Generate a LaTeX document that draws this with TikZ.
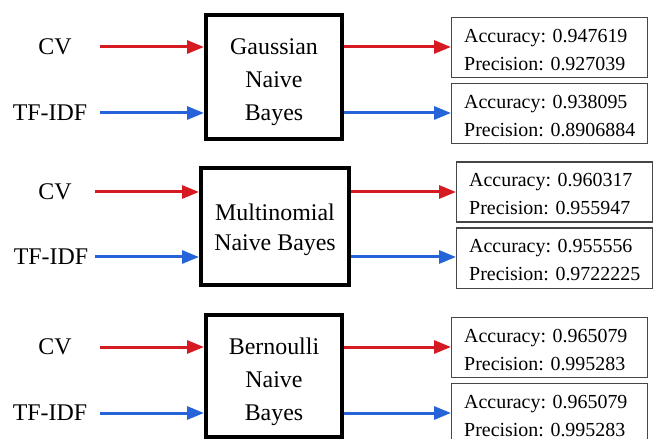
\documentclass[tikz,border=0pt]{standalone}
\usepackage{fontspec}
\setmainfont{Liberation Serif}
\usetikzlibrary{arrows.meta,calc}
\definecolor{arrred}{RGB}{214,26,34}
\definecolor{arrblue}{RGB}{36,100,216}
\definecolor{boxgray}{RGB}{70,70,70}
\begin{document}
\begin{tikzpicture}[x=1bp,y=-1bp,
  lab/.style={font=\fontsize{24}{28}\selectfont, inner sep=0pt},
  model/.style={draw=black, line width=4bp, inner sep=0pt},
  modeltext/.style={align=center, inner sep=0pt, font=\fontsize{24}{33}\selectfont},
  result/.style={draw=boxgray, line width=1.3bp, anchor=north west,
    inner sep=0pt, minimum height=60bp},
  resulttext/.style={align=left, anchor=west, inner sep=0pt,
    font=\fontsize{20}{28}\selectfont},
  redarr/.style={draw=arrred, line width=3bp, -{Triangle[length=17bp,width=13bp]}},
  bluearr/.style={draw=arrblue, line width=3bp, -{Triangle[length=17bp,width=13bp]}}]
\useasboundingbox (0,0) rectangle (653,439);
\clip (0,0) rectangle (653,439);

% ---------- Panel 1 ----------
\node[model, minimum width=136bp, minimum height=124.5bp] (g) at (274,77.2) {};
\node[modeltext] (gt) at (274,82) {Gaussian\\Naive\\Bayes};
\node[lab] (cv1) at (55,47) {CV};
\node[lab] (tf1) at (50,113) {TF-IDF};
\coordinate (s1) at (100,47);
\coordinate (t1) at (100,113);
\node[result, minimum width=196bp] (r1) at (451,17) {};
\node[resulttext] (r1t) at ($(r1.west)+(13,2)$) {Accuracy: 0.947619\\Precision: 0.927039};
\node[result, minimum width=196bp] (r2) at (451,83) {};
\node[resulttext] (r2t) at ($(r2.west)+(13,2)$) {Accuracy: 0.938095\\Precision: 0.8906884};
\draw[redarr] (s1) -- (s1 -| g.west);
\draw[bluearr] (t1) -- (t1 -| g.west);
\draw[redarr] (s1 -| g.east) -- (s1 -| r1.west);
\draw[bluearr] (t1 -| g.east) -- (t1 -| r2.west);

% ---------- Panel 2 ----------
\node[model, minimum width=148bp, minimum height=117bp] (m) at (275,226.5) {};
\node[modeltext, font=\fontsize{24}{30}\selectfont] (mt) at (275,229.5) {Multinomial\\Naive Bayes};
\node[lab] (cv2) at (55,192) {CV};
\node[lab] (tf2) at (51,257) {TF-IDF};
\coordinate (s2) at (95,192);
\coordinate (t2) at (95,257);
\node[result, minimum width=195.5bp] (r3) at (456,161.5) {};
\node[resulttext] (r3t) at ($(r3.west)+(13,2)$) {Accuracy: 0.960317\\Precision: 0.955947};
\node[result, minimum width=195.5bp] (r4) at (456,227.5) {};
\node[resulttext] (r4t) at ($(r4.west)+(13,2)$) {Accuracy: 0.955556\\Precision: 0.9722225};
\draw[redarr] (s2) -- (s2 -| m.west);
\draw[bluearr] (t2) -- (t2 -| m.west);
\draw[redarr] (s2 -| m.east) -- (s2 -| r3.west);
\draw[bluearr] (t2 -| m.east) -- (t2 -| r4.west);

% ---------- Panel 3 ----------
\node[model, minimum width=136bp, minimum height=122bp] (b) at (274,376) {};
\node[modeltext] (bt) at (274,382) {Bernoulli\\Naive\\Bayes};
\node[lab] (cv3) at (55,347) {CV};
\node[lab] (tf3) at (50,413) {TF-IDF};
\coordinate (s3) at (100,347);
\coordinate (t3) at (100,413);
\node[result, minimum width=196bp] (r5) at (451,317) {};
\node[resulttext] (r5t) at ($(r5.west)+(13,2)$) {Accuracy: 0.965079\\Precision: 0.995283};
\node[result, minimum width=196bp] (r6) at (451,383) {};
\node[resulttext] (r6t) at ($(r6.west)+(13,2)$) {Accuracy: 0.965079\\Precision: 0.995283};
\draw[redarr] (s3) -- (s3 -| b.west);
\draw[bluearr] (t3) -- (t3 -| b.west);
\draw[redarr] (s3 -| b.east) -- (s3 -| r5.west);
\draw[bluearr] (t3 -| b.east) -- (t3 -| r6.west);
\end{tikzpicture}
\end{document}
